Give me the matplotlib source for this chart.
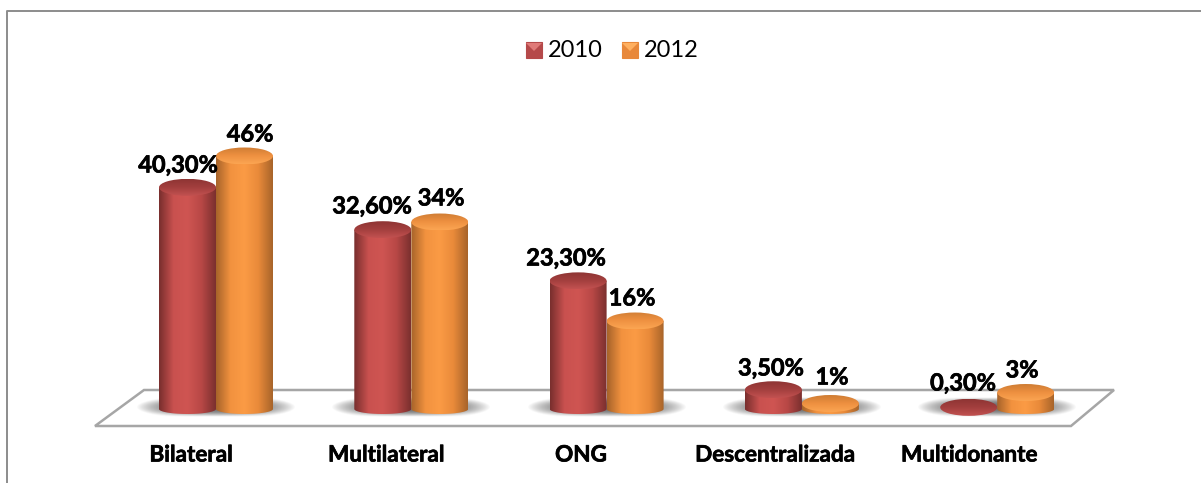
import numpy as np
import matplotlib
matplotlib.use('Agg')
from matplotlib import pyplot as plt
from matplotlib import patheffects as pe
from matplotlib.patches import Ellipse, Polygon, Rectangle, PathPatch
from matplotlib.path import Path
from matplotlib.colors import LinearSegmentedColormap, to_rgb

categories = ['Bilateral', 'Multilateral', 'ONG', 'Descentralizada', 'Multidonante']
series_names = ['2010', '2012']
values_2010 = [40.3, 32.6, 23.3, 3.5, 0.3]
values_2012 = [46, 34, 16, 1, 3]
labels_2010 = ['40,30%', '32,60%', '23,30%', '3,50%', '0,30%']
labels_2012 = ['46%', '34%', '16%', '1%', '3%']

W, H = 1201, 483
STEP = 195.3      # px per category
UNIT = 5.5        # px per percent
X0, Y0 = 216, 409 # px of first category / of zero

# onde ficam os rotulos, em px
label_pos_2010 = [(178, 165), (372, 206), (566, 258), (771, 368), (963, 383)]
label_pos_2012 = [(250, 134), (441, 198), (632, 298), (832, 377), (1022, 370)]
cat_pos = [191, 386, 581, 775, 969]

plt.rcParams['font.family'] = ['Lato', 'DejaVu Sans']

fig = plt.figure(figsize=(W / 100, H / 100), dpi=100)
ax = fig.add_axes([0, 0, 1, 1])
ax.set_xlim((0 - X0) / STEP, (W - X0) / STEP)
ax.set_ylim((Y0 - H) / UNIT, Y0 / UNIT)
ax.axis('off')

def px(x):
    return (x - X0) / STEP

def py(y):
    return (Y0 - y) / UNIT

# cores: borda escura, meio claro, topo
RED = ['#7a2f2e', '#c9514f', '#cf5552', '#b84846', '#7c302f']
ORANGE = ['#a8642a', '#f2923f', '#fb9b45', '#e98a3a', '#a9652a']
RED_TOP = ['#8f3534', '#a33f3e', '#c25150']
ORANGE_TOP = ['#cf7d34', '#ee9040', '#fba552']

def cylinder(xc, val, width, colors, top):
    rx = width / 2
    ry = 8.5 / UNIT
    ry_base = 5.0 / UNIT
    t = np.linspace(0, 1, 64)[None, :]
    cmap = LinearSegmentedColormap.from_list('c', colors)
    if val > 0.5:
        th = np.linspace(np.pi, 2 * np.pi, 40)
        xs = xc + rx * np.cos(th)
        verts = list(zip(xs, ry_base * np.sin(th)))
        verts += list(zip(xs[::-1], val + 0 * xs))
        clip = PathPatch(Path(verts + [verts[0]]), transform=ax.transData, fc='none', ec='none')
        ax.add_patch(clip)
        im = ax.imshow(t, cmap=cmap, extent=[xc - rx, xc + rx, -ry_base, val], aspect='auto', zorder=4)
        im.set_clip_path(clip)
    # tampa com gradiente vertical
    e = Ellipse((xc, val), width, 2 * ry, fc='none', ec='none', transform=ax.transData)
    ax.add_patch(e)
    tcmap = LinearSegmentedColormap.from_list('t', top)
    im2 = ax.imshow(np.linspace(0, 1, 32)[:, None], cmap=tcmap,
                    extent=[xc - rx, xc + rx, val - ry, val + ry], aspect='auto', zorder=5, origin='upper')
    im2.set_clip_path(e)

def shadow(xc):
    xx = np.linspace(-1, 1, 160)
    yy = np.linspace(-1, 1, 40)
    gx, gy = np.meshgrid(xx, yy)
    a = np.clip(1 - (gx ** 2 + gy ** 2 * 0.6) ** 1.5, 0, 1) * np.clip(1 - np.abs(gy) ** 3, 0, 1)
    rgba = np.zeros(a.shape + (4,))
    rgba[..., :3] = to_rgb('#707070')
    rgba[..., 3] = a
    ax.imshow(rgba, extent=[xc - 80 / STEP, xc + 80 / STEP, py(417), py(397)], aspect='auto', zorder=2)

# chao e moldura
ax.add_patch(Polygon([(px(95), py(426)), (px(1071), py(426)), (px(1114), py(390)), (px(144), py(390))],
                     fc='white', ec='#a6a6a6', lw=1.8, zorder=1))
ax.plot([px(6.5), px(6.5), px(1201)], [py(483), py(11.5), py(11.5)], color='#8c8c8c', lw=1.4, zorder=1)

fat = [pe.withStroke(linewidth=0.5, foreground='black')]
bar_w = 57 / STEP
off = 28.5 / STEP
for i, cat in enumerate(categories):
    shadow(i)
    cylinder(i - off, values_2010[i], bar_w, RED, RED_TOP)
    cylinder(i + off, values_2012[i], bar_w, ORANGE, ORANGE_TOP)
    ax.text(px(label_pos_2010[i][0]), py(label_pos_2010[i][1]), labels_2010[i], ha='center', va='center',
            fontsize=17, fontweight='bold', color='black', zorder=7, path_effects=fat)
    ax.text(px(label_pos_2012[i][0]), py(label_pos_2012[i][1]), labels_2012[i], ha='center', va='center',
            fontsize=17, fontweight='bold', color='black', zorder=7, path_effects=fat)
    ax.text(px(cat_pos[i]), py(455), cat, ha='center', va='center', fontsize=16.2, fontweight='bold',
            color='black', path_effects=fat)

# legenda
for x, name, col, light in [(526, series_names[0], '#b5494a', '#e07a78'), (622, series_names[1], '#e8883a', '#ffb060')]:
    ax.add_patch(Rectangle((px(x), py(58.5)), 16 / STEP, 16 / UNIT, fc=col, ec=col, lw=0.8, zorder=6))
    ax.add_patch(Polygon([(px(x), py(43)), (px(x + 16), py(43)), (px(x + 8), py(51))], fc=light, ec='none', zorder=7))
    ax.text(px(x + 22), py(51), name, ha='left', va='center', fontsize=17, color='black')

fig.savefig('out.png', dpi=100, facecolor='white')
